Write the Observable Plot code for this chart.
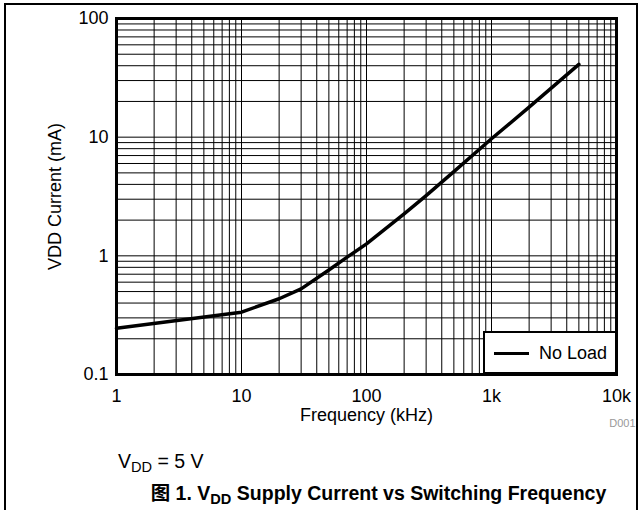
<!DOCTYPE html>
<html><head><meta charset="utf-8">
<script src="https://cdn.jsdelivr.net/npm/d3@7"></script>
<script src="https://cdn.jsdelivr.net/npm/@observablehq/plot@0.6"></script>
<style>
body{margin:0;background:#fff;font-family:"Liberation Sans",Arial,sans-serif;}
#wrap{position:relative;width:642px;height:510px;overflow:hidden;background:#fff;}
#border{position:absolute;left:4px;top:3px;width:630px;height:530px;border:2px solid #000;}
#chart{position:absolute;left:0;top:0;}
#legend{position:absolute;left:483px;top:331px;width:130px;height:39px;border:2px solid #000;background:#fff;}
#legline{position:absolute;left:9px;top:19px;width:35px;height:3px;background:#000;}
#legtext{position:absolute;left:54px;top:9px;font-size:18px;line-height:22px;color:#000;}
#cond{position:absolute;left:118px;top:449px;font-size:19.5px;line-height:24px;color:#000;}
#caption{position:absolute;left:0;width:757px;text-align:center;top:480px;font-size:19.5px;line-height:24px;font-weight:bold;color:#000;white-space:nowrap;}
.sub{font-size:0.75em;position:relative;top:0.3em;}
.cjk{font-family:"Noto Sans CJK SC",sans-serif;}
</style>
</head><body>
<div id="wrap">
<div id="border"></div>
<div id="chart"></div>
<div id="legend"><div id="legline"></div><div id="legtext">No Load</div></div>
<div id="cond">V<span class="sub">DD</span> = 5 V</div>
<div id="caption"><span class="cjk">图</span> 1. V<span class="sub">DD</span> Supply Current vs Switching Frequency</div>
</div>
<script>
const freq = [1, 10, 20, 30, 50, 70, 100, 200, 300, 500, 1000, 2000, 5000];
const current = [0.245, 0.335, 0.435, 0.527, 0.76, 0.975, 1.26, 2.26, 3.22, 5.12, 9.69, 17.9, 41];
const xTicks = [1, 10, 100, 1000, 10000];
const xTickLabels = ["1", "10", "100", "1k", "10k"];
const yTicks = [0.1, 1, 10, 100];
const yTickLabels = ["0.1", "1", "10", "100"];
const xDecades = [1, 10, 100, 1000];
const yDecades = [0.1, 1, 10];
const mult = [1, 2, 3, 4, 5, 6, 7, 8, 9];

const xGrid = xDecades.flatMap(d => mult.map(m => d * m)).concat([10000]);
const yGrid = yDecades.flatMap(d => mult.map(m => +(d * m).toPrecision(3))).concat([100]);
const data = freq.map((f, i) => ({f, c: current[i]}));

const plot = Plot.plot({
  width: 642,
  height: 432,
  marginLeft: 116,
  marginRight: 26,
  marginTop: 18,
  marginBottom: 58,
  x: {type: "log", domain: [1, 10000]},
  y: {type: "log", domain: [0.1, 100]},
  style: {fontFamily: '"Liberation Sans", Arial, sans-serif', fontSize: "18px", color: "#000", background: "transparent", overflow: "visible"},
  marks: [
    Plot.gridX(xGrid, {stroke: "#000", strokeOpacity: 1, strokeWidth: 1}),
    Plot.gridY(yGrid, {stroke: "#000", strokeOpacity: 1, strokeWidth: 1}),
    Plot.axisX(xTicks, {tickSize: 0, tickPadding: 15, fontSize: 18, label: null, tickFormat: d => xTickLabels[xTicks.indexOf(d)]}),
    Plot.axisY(yTicks, {tickSize: 0, tickPadding: 8, fontSize: 18, label: null, tickFormat: d => yTickLabels[yTicks.indexOf(d)]}),
    Plot.line(data, {x: "f", y: "c", stroke: "#000", strokeWidth: 3.5}),
    Plot.frame({stroke: "#000", strokeWidth: 3}),
    Plot.text(["Frequency (kHz)"], {text: d => d, frameAnchor: "bottom", dy: 41, textAnchor: "middle", lineAnchor: "middle", fontSize: 18}),
    Plot.text(["VDD Current (mA)"], {text: d => d, frameAnchor: "left", rotate: -90, dx: -61, textAnchor: "middle", lineAnchor: "middle", fontSize: 18}),
    Plot.text(["D001"], {text: d => d, frameAnchor: "bottom-right", dx: 19, dy: 49, textAnchor: "end", lineAnchor: "middle", fontSize: 11, fill: "#999"})
  ]
});
document.getElementById("chart").appendChild(plot);
</script>
</body></html>
